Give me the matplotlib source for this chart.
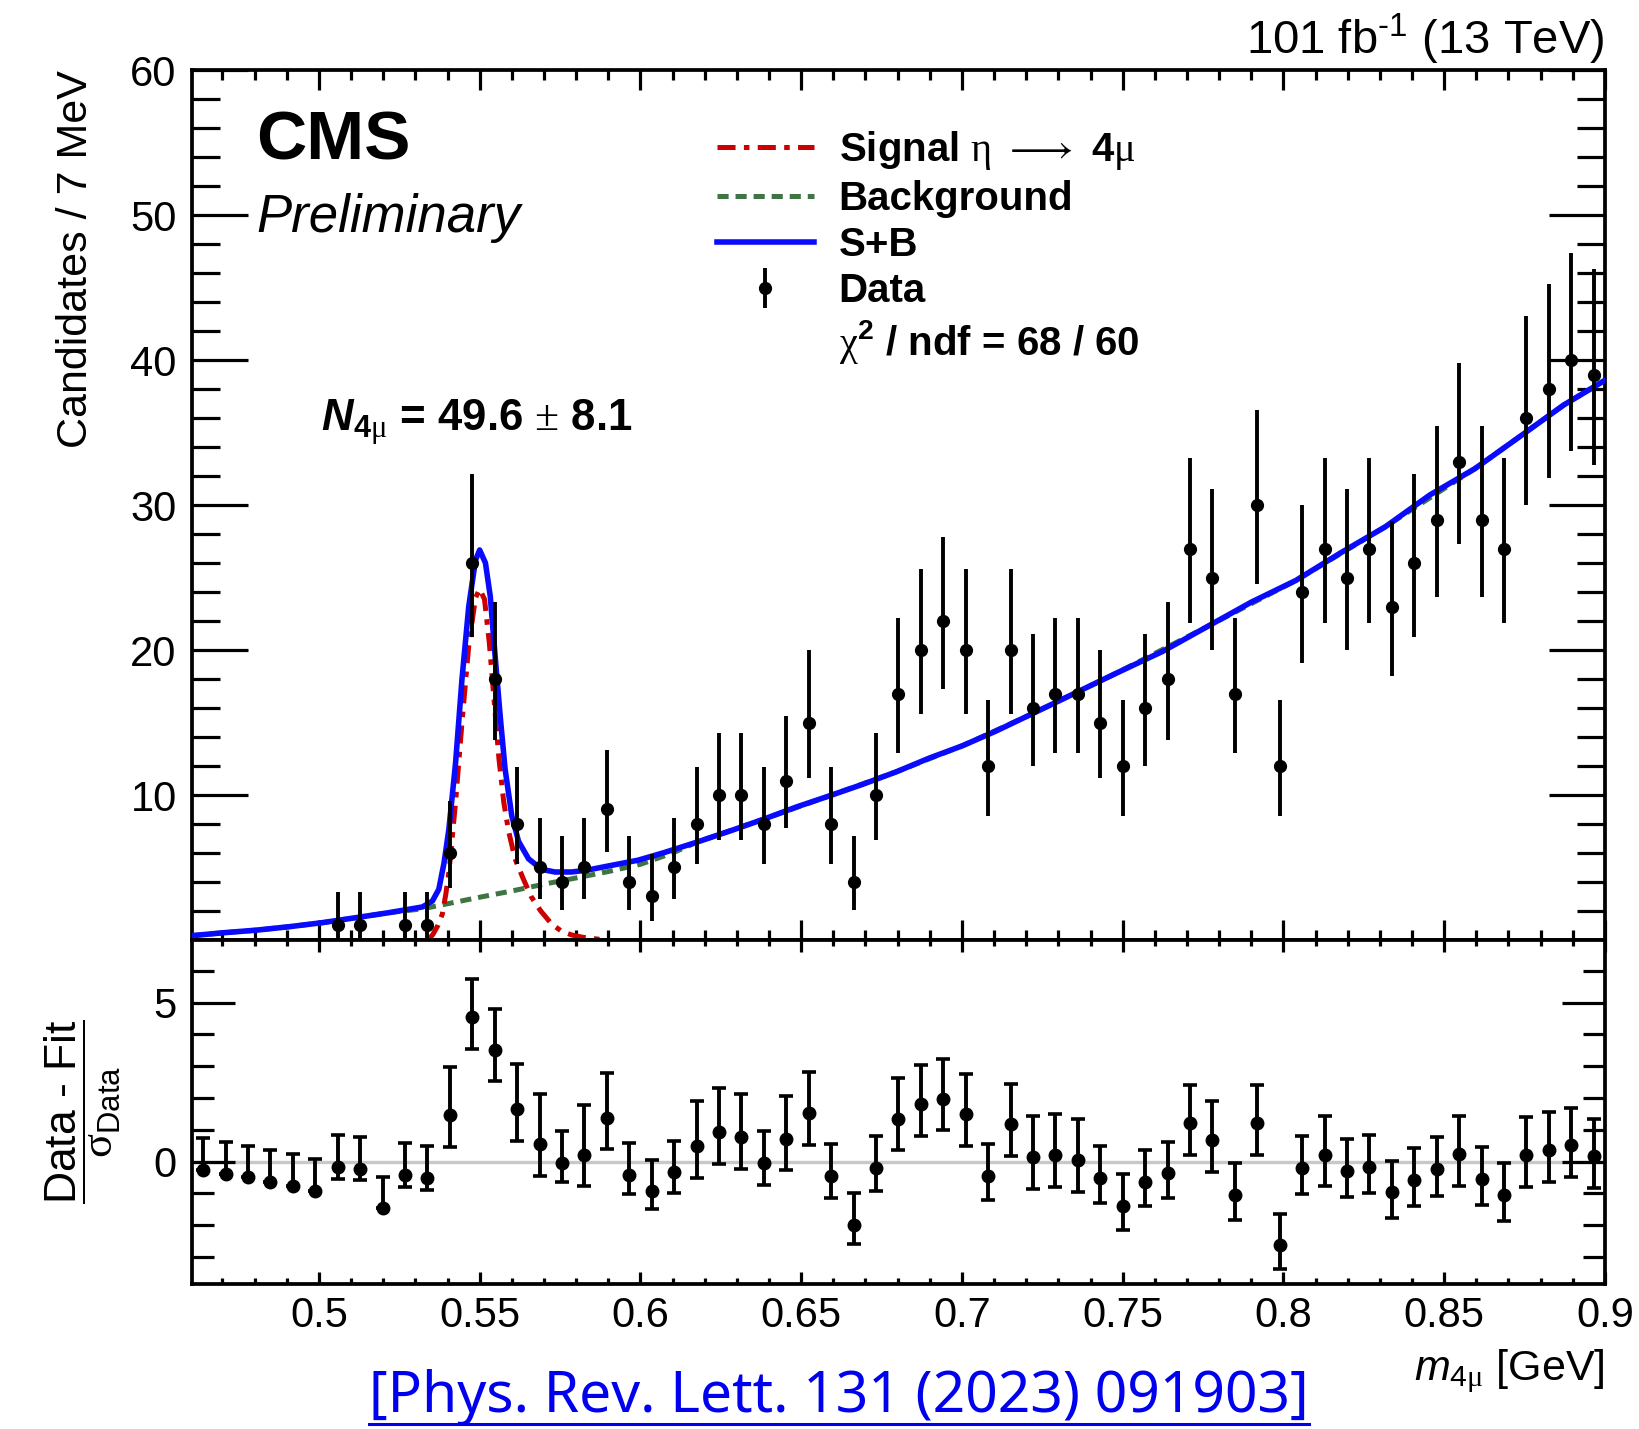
import numpy as np
import matplotlib
matplotlib.use("Agg")
import matplotlib.pyplot as plt
from matplotlib.lines import Line2D
from matplotlib.ticker import FixedLocator, MultipleLocator, FuncFormatter

plt.rcParams["font.family"] = ["Liberation Sans", "DejaVu Sans"]
plt.rcParams["mathtext.fontset"] = "custom"
plt.rcParams["mathtext.rm"] = "Liberation Sans"
plt.rcParams["mathtext.it"] = "Liberation Sans:italic"
plt.rcParams["mathtext.bf"] = "Liberation Sans:bold"
plt.rcParams["mathtext.bfit"] = "Liberation Sans:italic:bold"
plt.rcParams["mathtext.sf"] = "Liberation Serif"
plt.rcParams["lines.scale_dashes"] = False

####################################################################################################
# binned 4-muon invariant mass, 63 bins of ~7 MeV

m_lo, m_hi = 0.4605, 0.9
n_bins = 63

counts = [0, 0, 0, 0, 0, 0, 1, 1, 0, 1, 1,
          6, 26, 18, 8, 5, 4, 5, 9, 4, 3,
          5, 8, 10, 10, 8, 11, 15, 8, 4, 10,
          17, 20, 22, 20, 12, 20, 16, 17, 17, 15,
          12, 16, 18, 27, 25, 17, 30, 12, 24, 27,
          25, 27, 23, 26, 29, 33, 29, 27, 36, 38,
          40, 39]

pulls = [-0.26, -0.38, -0.50, -0.63, -0.76, -0.92, -0.16, -0.22, -1.47, -0.42, -0.52,
         1.46, 4.54, 3.52, 1.64, 0.56, -0.04, 0.22, 1.38, -0.42, -0.94,
         -0.34, 0.49, 0.93, 0.77, -0.03, 0.72, 1.52, -0.45, -1.98, -0.21,
         1.35, 1.80, 1.98, 1.50, -0.45, 1.19, 0.15, 0.21, 0.05, -0.52,
         -1.39, -0.63, -0.37, 1.20, 0.68, -1.04, 1.22, -2.64, -0.19, 0.22,
         -0.29, -0.16, -0.97, -0.57, -0.24, 0.23, -0.55, -1.05, 0.21, 0.37,
         0.51, 0.18]

# S+B fit curve
fit_m = [0.4605, 0.4703, 0.4806, 0.4909, 0.5012, 0.5115, 0.5219, 0.5322, 0.5353, 0.5373,
         0.5389, 0.5404, 0.5425, 0.5445, 0.5466, 0.5487, 0.5500, 0.5518, 0.5533, 0.5548,
         0.5564, 0.5579, 0.5600, 0.5621, 0.5652, 0.5693, 0.5734, 0.5786, 0.5837, 0.5899,
         0.5992, 0.6074, 0.6177, 0.6280, 0.6383, 0.6486, 0.6589, 0.6693, 0.6796, 0.6899,
         0.7002, 0.7105, 0.7209, 0.7312, 0.7480, 0.7624, 0.7762, 0.7900, 0.8039, 0.8178,
         0.8317, 0.8456, 0.8595, 0.8734, 0.8872, 0.9000]
fit_sb = [0.30, 0.50, 0.68, 0.92, 1.20, 1.54, 1.89, 2.28, 2.69, 3.50,
          5.30, 7.60, 12.2, 18.0, 23.0, 26.2, 26.9, 26.0, 23.7, 19.6,
          15.4, 11.8, 8.55, 6.80, 5.60, 4.87, 4.69, 4.69, 4.83, 5.10,
          5.50, 6.03, 6.76, 7.53, 8.33, 9.18, 9.95, 10.75, 11.6, 12.55,
          13.4, 14.4, 15.5, 16.6, 18.4, 19.9, 21.6, 23.3, 24.8, 26.7,
          28.5, 30.7, 32.5, 34.7, 36.9, 38.6]

# background component
bkg_m = [0.4605, 0.4703, 0.4806, 0.4909, 0.5012, 0.5115, 0.5219, 0.5322, 0.5400, 0.5500,
         0.5600, 0.5700, 0.5800, 0.5900, 0.6000, 0.6100, 0.6177, 0.6383, 0.6589, 0.6796,
         0.7002, 0.7209, 0.7480, 0.7762, 0.8039, 0.8317, 0.8595, 0.8872, 0.9000]
bkg_y = [0.30, 0.50, 0.68, 0.92, 1.20, 1.54, 1.89, 2.15, 2.50, 2.95,
         3.38, 3.85, 4.28, 4.72, 5.22, 6.00, 6.76, 8.33, 9.95, 11.6,
         13.4, 15.5, 18.4, 21.6, 24.8, 28.5, 32.5, 36.9, 38.6]

# signal component, eta -> 4 mu
sig_m = [0.5340, 0.5355, 0.5370, 0.5384, 0.5395, 0.5405, 0.5425, 0.5445, 0.5466, 0.5487,
         0.5500, 0.5515, 0.5530, 0.5545, 0.5560, 0.5575, 0.5590, 0.5610, 0.5636, 0.5660,
         0.5690, 0.5724, 0.5755, 0.5786, 0.5817, 0.5853, 0.5890]
sig_y = [0.0, 0.4, 1.0, 1.8, 3.2, 4.8, 9.5, 15.0, 20.3, 23.6,
         24.2, 23.5, 20.5, 16.5, 12.5, 9.5, 7.5, 5.6, 4.2, 3.0,
         2.0, 1.1, 0.6, 0.35, 0.2, 0.1, 0.0]

major_x = [0.5, 0.55, 0.6, 0.65, 0.7, 0.75, 0.8, 0.85, 0.9]

####################################################################################################

counts = np.array(counts, dtype=float)
pulls = np.array(pulls)
edges = np.linspace(m_lo, m_hi, n_bins + 1)
centers = 0.5 * (edges[:-1] + edges[1:])

# asymmetric Poisson errors on the counts
err_lo = np.sqrt(np.clip(counts - 0.25, 0, None))
err_hi = np.sqrt(counts + 0.75) + 1.0

# pull error bars, normalised to the error on the side of the fit
safe_lo = np.where(err_lo > 0, err_lo, 1.0)
pull_lo = np.where(counts == 0, 0.0, np.where(pulls >= 0, 1.0, err_lo / err_hi))
pull_hi = np.where(counts == 0, 1.0, np.where(pulls >= 0, err_hi / safe_lo, 1.0))

red = '#cc0000'
green = '#3f7542'
blue = '#0a0aff'
sig_dash = [13, 6, 4, 6]
bkg_dash = [8, 5]

figure = plt.figure(figsize=(16.39, 14.29), dpi=100)
ax1 = figure.add_axes([0.1171, 0.3422, 0.8621, 0.6088])
ax2 = figure.add_axes([0.1171, 0.1015, 0.8621, 0.2407], sharex=ax1)

ax1.plot(bkg_m, bkg_y, color=green, lw=3.6, dashes=bkg_dash, zorder=2)
ax1.plot(sig_m, sig_y, color=red, lw=3.6, dashes=sig_dash, zorder=3)
ax1.plot(fit_m, fit_sb, color=blue, lw=4.0, zorder=4)

shown = counts > 0
data = ax1.errorbar(centers[shown], counts[shown],
                    yerr=[err_lo[shown], err_hi[shown]],
                    fmt='o', color='black', ms=8.5, elinewidth=2.8, capsize=0, zorder=5)

ax1.set_xlim(m_lo, m_hi)
ax1.set_ylim(0, 60)

ax2.axhline(0, color='#c8c8c8', lw=2.4, zorder=1)
ax2.errorbar(centers, pulls, yerr=[pull_lo, pull_hi], fmt='o', color='black',
             ms=9, elinewidth=2.8, capsize=5, capthick=2.6, zorder=5)
ax2.set_ylim(-3.85, 6.97)

# axes, ticks
for ax in (ax1, ax2):
    for s in ax.spines.values():
        s.set_linewidth(2.7)
    ax.xaxis.set_major_locator(FixedLocator(major_x))
    ax.xaxis.set_minor_locator(MultipleLocator(0.01))
    ax.tick_params(which='both', direction='in', top=True, right=True, width=2.3,
                   labelsize=30, pad=11)

ax1.yaxis.set_major_locator(MultipleLocator(10))
ax1.yaxis.set_minor_locator(MultipleLocator(2))
ax1.yaxis.set_major_formatter(FuncFormatter(lambda v, p: '' if v == 0 else '%d' % v))
ax1.tick_params(axis='y', which='major', length=40)
ax1.tick_params(axis='y', which='minor', length=20)
ax1.tick_params(axis='x', which='major', length=14.5)
ax1.tick_params(axis='x', which='minor', length=7.2)
ax1.tick_params(labelbottom=False)

ax2.yaxis.set_major_locator(FixedLocator([0, 5]))
ax2.yaxis.set_minor_locator(MultipleLocator(1))
ax2.tick_params(axis='y', which='major', length=31)
ax2.tick_params(axis='y', which='minor', length=16)
ax2.tick_params(axis='x', which='major', length=8.5)
ax2.tick_params(axis='x', which='minor', length=4)
ax2.xaxis.set_major_formatter(FuncFormatter(lambda v, p: '%g' % round(v, 3)))
ax2.tick_params(axis='x', pad=9)

# labels
ax1.set_ylabel('Candidates / 7 MeV', fontsize=31, loc='top')
ax1.yaxis.set_label_coords(-0.068, 1.0)
ax2.set_ylabel(r'$\dfrac{\text{Data - Fit}}{\mathsf{\sigma}_{\mathrm{Data}}}$', fontsize=32)
ax2.yaxis.set_label_coords(-0.049, 0.5)
ax2.set_xlabel(r'$m_{4\mathsf{\mu}}$ [GeV]', fontsize=31, loc='right')
ax2.xaxis.set_label_coords(1.0, -0.185)

ax1.text(1.0, 1.018, r'101 fb$^{\text{-1}}$ (13 TeV)', transform=ax1.transAxes,
         ha='right', va='baseline', fontsize=34)
ax1.text(0.0453, 0.8977, 'CMS', transform=ax1.transAxes, fontsize=50,
         fontweight='bold', va='baseline')
ax1.text(0.0453, 0.8138, 'Preliminary', transform=ax1.transAxes, fontsize=38,
         style='italic', va='baseline')
ax1.text(0.0913, 0.585, r'$\mathbfit{N}_{\mathbf{4}\mathsf{\mu}}$ = 49.6 $\mathsf{\pm}$ 8.1',
         transform=ax1.transAxes, fontsize=31.5, fontweight='bold', va='baseline')

handles = [Line2D([], [], color=red, lw=3.6, dashes=sig_dash),
           Line2D([], [], color=green, lw=3.6, dashes=bkg_dash),
           Line2D([], [], color=blue, lw=4.0),
           data,
           Line2D([], [], linestyle='none')]
labels = [r'Signal $\mathsf{\eta}$ $\longrightarrow$ 4$\mathsf{\mu}$',
          'Background',
          'S+B',
          'Data',
          r'$\mathsf{\chi}^{\mathbf{2}}$ / ndf = 68 / 60']
ax1.legend(handles, labels, loc='upper left', bbox_to_anchor=(0.3716, 0.932),
           frameon=False, prop={'weight': 'bold', 'size': 29},
           handlelength=2.4, handletextpad=0.62, labelspacing=0.2,
           borderpad=0, borderaxespad=0)

ref = figure.text(0.512, 0.012, '[Phys. Rev. Lett. 131 (2023) 091903]',
                  ha='center', va='baseline', fontsize=41, color='#0000ee',
                  family='Noto Sans')
figure.canvas.draw()
bb = ref.get_window_extent().transformed(figure.transFigure.inverted())
figure.add_artist(Line2D([bb.x0, bb.x1], [0.0035, 0.0035], color='#0000ee', lw=2.2,
                         transform=figure.transFigure))

figure.savefig('out.png', dpi=100)
